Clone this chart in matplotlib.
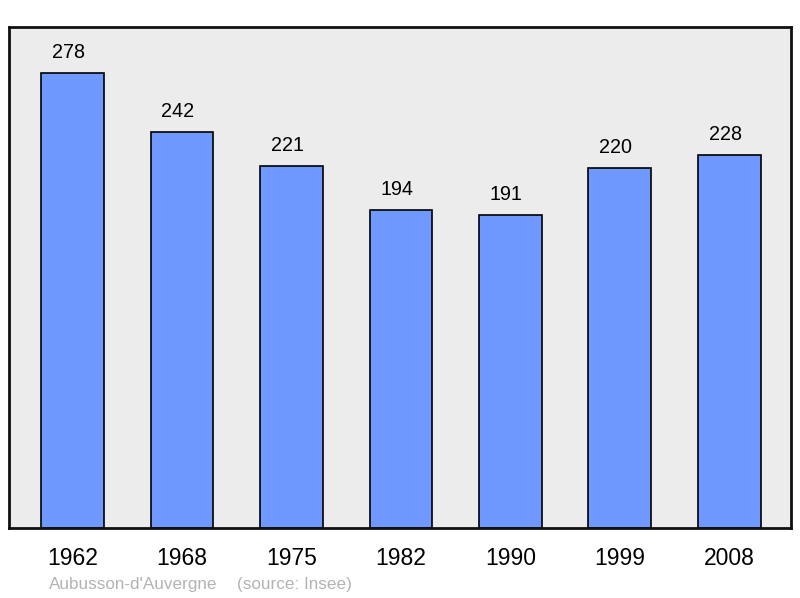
import matplotlib
matplotlib.use("Agg")
import matplotlib.pyplot as plt

years = ["1962", "1968", "1975", "1982", "1990", "1999", "2008"]
population = [278, 242, 221, 194, 191, 220, 228]
commune = "Aubusson-d'Auvergne"
source = "(source: Insee)"

plt.rcParams['font.family'] = ['Liberation Sans', 'DejaVu Sans']

fig = plt.figure(figsize=(8, 5.98), dpi=100)
W, H = 800, 598
ax = fig.add_axes([9/W, (H-528)/H, 782/W, 501/H])
ax.set_facecolor('#ececec')

x = list(range(len(years)))
ax.bar(x, population, width=0.575, color='#7099ff', edgecolor='black', linewidth=1.2, zorder=2)
for xi, v in zip(x, population):
    ax.text(xi - 0.04, v + 12.5, str(v), ha='center', va='center', fontsize=14.2, color='black')

ax.set_xlim(-0.58, 6.562)
ax.set_ylim(0, 306)
ax.set_yticks([])
ax.set_xticks(x)
ax.set_xticklabels(years, fontsize=16.5)
ax.tick_params(axis='x', length=0, pad=14)
for s in ax.spines.values():
    s.set_linewidth(2)
    s.set_color('#111111')

fig.text(49/W, 1 - 584/H, commune, color='#b3b3b3', fontsize=12.3, va='center', ha='left')
fig.text(237/W, 1 - 584/H, source, color='#b3b3b3', fontsize=12.3, va='center', ha='left')

fig.savefig("out.png", dpi=100)
